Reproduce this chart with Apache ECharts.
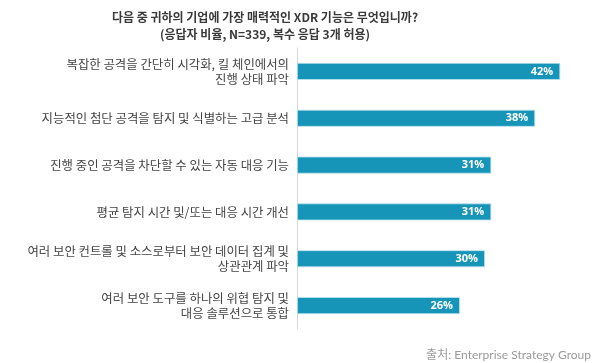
<!DOCTYPE html>
<html><head><meta charset="utf-8">
<script src="https://cdn.jsdelivr.net/npm/echarts@6/dist/echarts.min.js"></script>
<style>html,body{margin:0;padding:0;background:#fff}#c{width:600px;height:363px}</style>
</head><body><div id="c"></div>
<script>
var titleLines = ['다음 중 귀하의 기업에 가장 매력적인 XDR 기능은 무엇입니까?', '(응답자 비율, N=339, 복수 응답 3개 허용)'];
var categories = [
  '복잡한 공격을 간단히 시각화, 킬 체인에서의\n진행 상태 파악',
  '지능적인 첨단 공격을 탐지 및 식별하는 고급 분석',
  '진행 중인 공격을 차단할 수 있는 자동 대응 기능',
  '평균 탐지 시간 및/또는 대응 시간 개선',
  '여러 보안 컨트롤 및 소스로부터 보안 데이터 집계 및\n상관관계 파악',
  '여러 보안 도구를 하나의 위협 탐지 및\n대응 솔루션으로 통합'
];
var values = [42, 38, 31, 31, 30, 26];
var sourceText = '출처: Enterprise Strategy Group';

var chart = echarts.init(document.getElementById('c'), null, {renderer: 'canvas'});
var font = '"Noto Sans CJK KR", "Noto Sans", sans-serif';
chart.setOption({
  animation: false,
  textStyle: {fontFamily: font},
  title: [{
    text: titleLines.join('\n'),
    left: 260, top: 4, textAlign: 'center',
    textStyle: {fontSize: 12, fontWeight: 'bold', color: '#3a3a3a', lineHeight: 17, fontFamily: font}
  }, {
    text: sourceText,
    right: 4, top: 344,
    textStyle: {fontSize: 12, fontWeight: 'normal', color: '#9a9a9a', fontFamily: 'Lato, "Noto Sans CJK KR", sans-serif'}
  }],
  grid: {left: 297, top: 48, width: 282, height: 281, containLabel: false},
  xAxis: {type: 'value', min: 0, max: 45, show: false},
  yAxis: {
    type: 'category', data: categories, inverse: true,
    axisLine: {show: true, lineStyle: {color: '#d9d9d9', width: 1}},
    axisTick: {show: false},
    axisLabel: {fontSize: 12.4, color: '#444', lineHeight: 15, margin: 8, align: 'right', fontFamily: font}
  },
  series: [{
    type: 'bar', data: values, barWidth: 17,
    itemStyle: {color: '#1795b9', borderColor: '#bfe3ee', borderWidth: 0.8},
    label: {show: true, position: 'insideRight', distance: 7, formatter: '{c}%', color: '#fff', fontWeight: 'bold', fontSize: 11, fontFamily: '"Open Sans", sans-serif'}
  }]
});
</script></body></html>
